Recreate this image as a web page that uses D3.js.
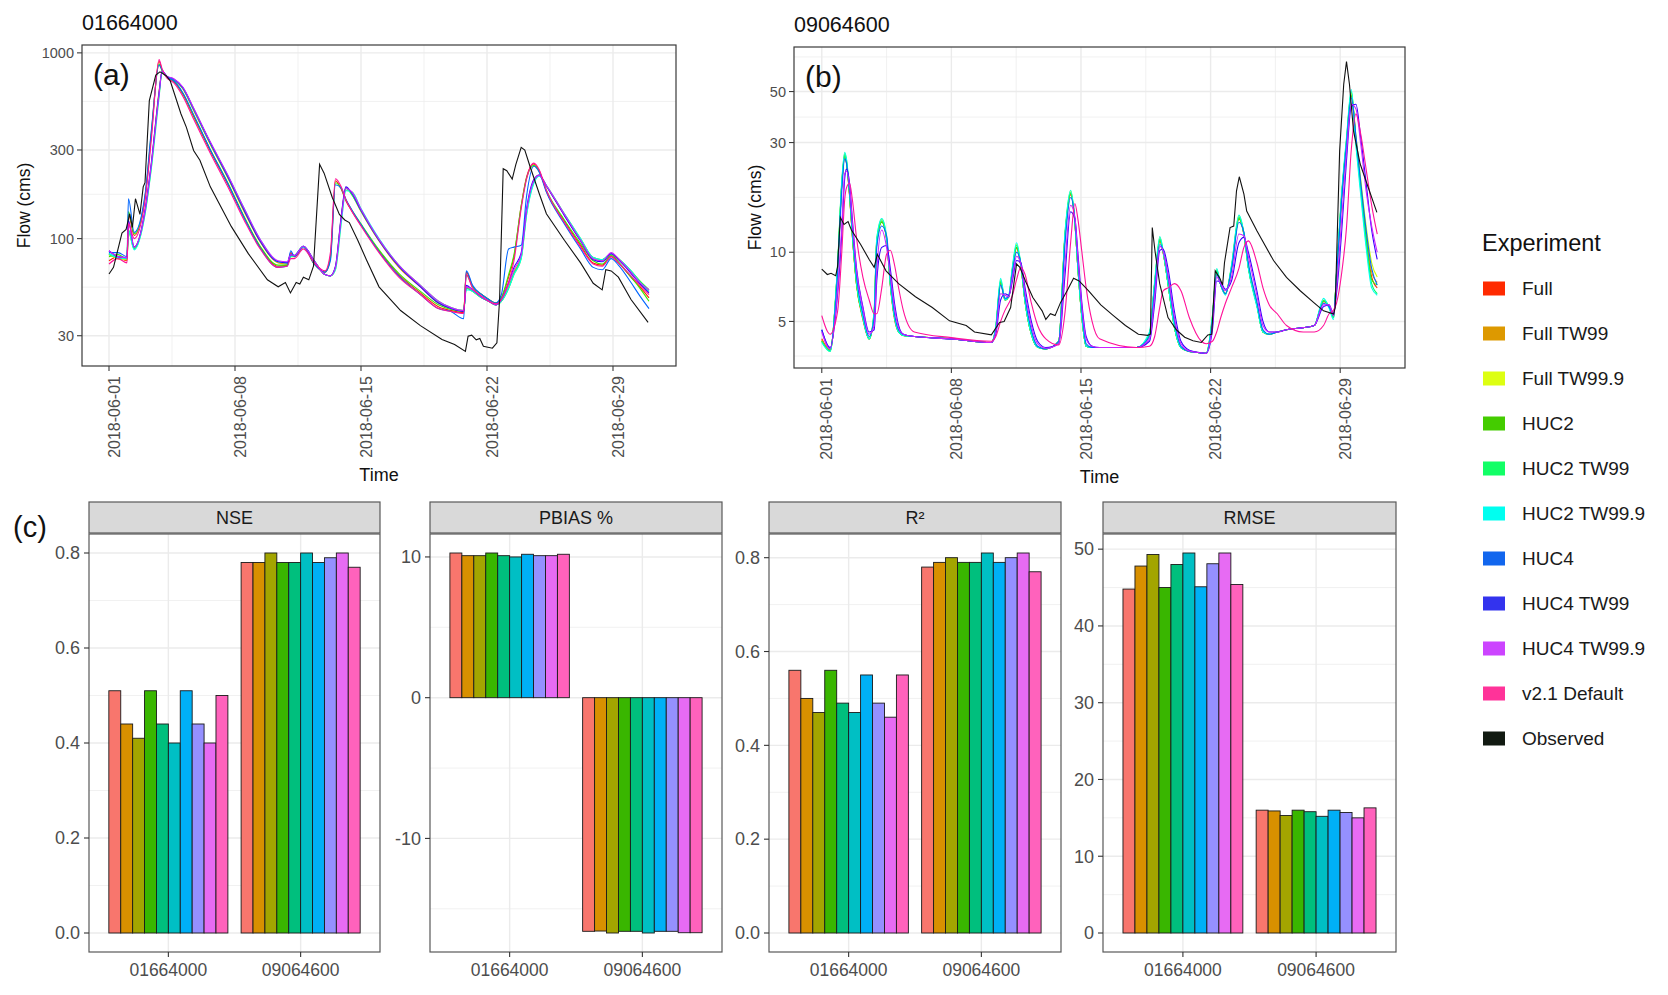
<!DOCTYPE html>
<html>
<head>
<meta charset="utf-8">
<script src="https://cdn.jsdelivr.net/npm/d3@7.9.0/dist/d3.min.js"></script>
<style>
  body { margin: 0; background: #fff; }
  svg { font-family: "Liberation Sans", Arial, Helvetica, sans-serif; }
</style>
</head>
<body>
<svg id="chart" width="1668" height="995"></svg>
<script>
// ---- categories / labels ----
const experiments = ['Full', 'Full TW99', 'Full TW99.9', 'HUC2', 'HUC2 TW99', 'HUC2 TW99.9',
  'HUC4', 'HUC4 TW99', 'HUC4 TW99.9', 'v2.1 Default'];
const legendLabels = [...experiments, 'Observed'];
const lineColors = ['#ff2200', '#ee9900', '#ccff00', '#33ee00', '#00ff66', '#00ffee',
  '#0066ff', '#3300ff', '#cc22ff', '#ff1199', '#111111'];
const keyColors = ['#ff2a00', '#dd9900', '#ddff11', '#44cc00', '#11ff66', '#00fff0',
  '#1166ee', '#3333ee', '#cc44ff', '#ff3399', '#111a11'];
const barColors = ['#F8766D', '#D89000', '#A3A500', '#39B600', '#00BF7D', '#00BFC4',
  '#00B0F6', '#9590FF', '#E76BF3', '#FF62BC'];
const sites = ['01664000', '09064600'];
const dateTickDays = [0, 7, 14, 21, 28];
const dateTickLabels = ['2018-06-01', '2018-06-08', '2018-06-15', '2018-06-22', '2018-06-29'];

// ---- site 01664000 hydrographs (days since 2018-06-01, flow cms) ----
const daysA = [0, 0.5, 1.0, 1.08, 1.4, 2.0, 2.35, 2.78, 2.95, 3.2,
  3.6, 4.1, 4.7, 5.6, 6.6, 7.5, 8.4, 9.4, 9.9, 10.1,
  10.3, 10.8, 11.4, 12.0, 12.3, 12.58, 12.9, 13.16, 13.5, 14.0,
  15.0, 16.1, 17.3, 18.3, 19.0, 19.7, 19.85, 20.2, 20.7, 21.1,
  21.5, 21.8, 22.2, 22.5, 22.9, 23.2, 23.6, 23.9, 24.3, 25.3,
  26.2, 26.9, 27.4, 27.9, 28.3, 29.0, 29.5, 30.0];
const flowA_full = [76, 80, 76, 135, 104, 165, 360, 900, 810, 740,
  700, 600, 455, 300, 196, 130, 90, 71, 72, 84,
  80, 90, 73, 66, 80, 205, 185, 160, 140, 118,
  86, 64, 51, 43, 41, 40, 66, 55, 50, 47,
  45, 48, 62, 80, 150, 215, 252, 232, 180, 124,
  92, 74, 72, 80, 74, 62, 55, 48];
const flowA_fullTW99 = [82, 78, 77, 110, 90, 140, 250, 620, 790, 745,
  715, 640, 490, 325, 212, 140, 96, 74, 73, 80,
  80, 90, 75, 64, 63, 70, 130, 188, 172, 140,
  97, 70, 55, 45, 42, 41, 55, 52, 48, 46,
  44, 46, 55, 66, 80, 140, 205, 220, 192, 134,
  98, 78, 76, 82, 77, 66, 58, 52];
const flowA_fullTW999 = [82, 78, 77, 108, 88, 136, 240, 580, 800, 748,
  720, 648, 500, 332, 218, 145, 98, 75, 74, 80,
  81, 90, 76, 64, 63, 68, 122, 182, 178, 144,
  99, 72, 56, 46, 42.5, 41, 54, 52, 48, 46,
  44, 46, 54, 64, 78, 135, 200, 218, 193, 136,
  100, 79, 77, 83, 78, 67, 59, 53];
const flowA_huc2 = [80, 82, 78, 140, 106, 168, 370, 870, 800, 742,
  705, 605, 460, 305, 200, 132, 91, 72, 72, 82,
  80, 90, 73, 66, 78, 200, 186, 162, 142, 120,
  87, 65, 52, 44, 41.5, 40.5, 64, 55, 50, 47,
  45, 48, 64, 82, 150, 212, 248, 230, 182, 126,
  94, 76, 73, 81, 75, 62, 54, 46];
const flowA_huc2TW99 = [83, 79, 78, 112, 88, 138, 245, 600, 785, 745,
  718, 645, 495, 328, 214, 142, 97, 75, 74, 80,
  81, 91, 76, 64, 63, 70, 128, 186, 172, 141,
  98, 71, 55.5, 45.5, 42, 41, 54, 52, 48, 46,
  44, 46, 54, 65, 79, 138, 203, 219, 192, 135,
  99, 79, 77, 83, 78, 67, 59, 53];
const flowA_huc2TW999 = [83, 79, 78, 110, 87, 135, 238, 575, 798, 748,
  720, 648, 500, 333, 219, 146, 99, 75, 74, 80,
  81, 90, 76, 64, 63, 68, 120, 181, 178, 145,
  100, 72, 56, 46, 42.5, 41, 53, 52, 48, 46,
  44, 46, 54, 64, 78, 134, 198, 217, 193, 136,
  100, 79, 77, 83, 78, 67, 58, 52];
const flowA_huc4 = [84, 84, 80, 164, 108, 172, 380, 860, 810, 745,
  708, 610, 465, 305, 198, 130, 89, 70, 71, 86,
  80, 91, 73, 66, 76, 195, 187, 163, 142, 119,
  85, 63, 50, 42, 40.5, 37, 67, 56, 50, 47,
  45, 50, 88, 90, 92, 170, 245, 228, 178, 120,
  88, 70, 68, 78, 72, 58, 49, 42];
const flowA_huc4TW99 = [86, 80, 79, 125, 90, 142, 255, 610, 795, 750,
  722, 650, 500, 332, 216, 143, 97, 75, 74, 82,
  81, 91, 76, 64, 63, 71, 132, 190, 175, 142,
  98, 71, 55, 45, 42, 40.5, 56, 53, 48.5, 46,
  44, 47, 58, 70, 84, 145, 208, 220, 192, 133,
  97, 77, 75, 83, 77, 65, 57, 51];
const flowA_huc4TW999 = [86, 80, 79, 122, 90, 140, 250, 600, 800, 752,
  725, 655, 505, 336, 220, 146, 99, 76, 75, 82,
  81, 91, 76, 64, 63, 70, 128, 186, 178, 144,
  99, 72, 56, 46, 42.5, 41, 55, 53, 48.5, 46,
  44, 47, 57, 68, 82, 142, 205, 219, 193, 135,
  98, 78, 76, 84, 78, 66, 58, 53];
const flowA_v21 = [73, 78, 74, 120, 100, 160, 340, 920, 820, 735,
  690, 585, 440, 292, 190, 126, 88, 70, 71, 78,
  78, 88, 74, 67, 84, 210, 190, 162, 140, 117,
  84, 62, 50, 42, 40.5, 39.5, 64, 54, 49, 46,
  44.5, 47, 58, 76, 145, 210, 255, 235, 182, 122,
  90, 73, 71, 80, 74, 63, 56, 50];
const obsDaysA = [0, 0.25, 0.72, 0.95, 1.15, 1.3, 1.47, 1.72, 1.9, 2.0,
  2.24, 2.6, 2.83, 3.18, 3.4, 4.0, 4.3, 4.7, 5.05, 5.63,
  6.8, 7.74, 8.8, 9.4, 9.8, 10.08, 10.4, 10.6, 10.8, 11.1,
  11.36, 11.7, 11.95, 12.4, 12.8, 13.1, 13.35, 13.82, 14.3, 15.0,
  16.2, 17.3, 18.5, 19.2, 19.8, 19.95, 20.15, 20.4, 20.6, 20.8,
  21.3, 21.55, 21.7, 21.9, 22.1, 22.4, 22.6, 22.9, 23.1, 23.4,
  23.9, 24.3, 25.3, 26.2, 26.9, 27.4, 27.6, 27.9, 28.3, 29.0, 29.95];
const obsFlowA = [64.5, 70, 107, 112, 136, 115, 164, 135, 190, 200,
  553, 760, 790, 753, 707, 469, 397, 298, 264, 190,
  116, 83, 60, 55, 58, 51, 58, 57, 62, 60,
  71, 251, 225, 167, 135, 126, 122, 98, 77, 55,
  41, 34, 28.6, 26.9, 24.7, 29.8, 30.2, 28.5, 29, 26.3,
  25.7, 27.5, 47, 238, 232, 209, 250, 310, 300, 243,
  175, 136, 98, 74, 57.5, 53, 68, 67, 62, 47, 35.4];

// ---- site 09064600 hydrographs ----
const daysB = [0, 0.45, 0.85, 1.08, 1.24, 1.33, 1.5, 1.65, 1.88, 2.22,
  2.56, 2.83, 2.97, 3.24, 3.5, 3.7, 3.93, 4.15, 4.4, 5.0,
  7.0, 9.16, 9.4, 9.66, 9.9, 10.1, 10.3, 10.52, 10.75, 10.98,
  11.32, 11.66, 12.1, 12.8, 13.14, 13.44, 13.67, 13.83, 14.05, 14.28,
  14.6, 15.0, 17.0, 17.7, 17.98, 18.26, 18.44, 18.7, 19.05, 19.4,
  19.85, 20.5, 20.76, 21.1, 21.33, 21.55, 21.8, 22.13, 22.53, 22.8,
  23.04, 23.5, 23.83, 24.17, 24.6, 25.1, 26.0, 26.6, 27.1, 27.4,
  27.64, 27.8, 28.07, 28.34, 28.6, 28.85, 29.1, 29.4, 29.7, 30.0];
const flowB_full = [4.2, 3.75, 8.4, 19.5, 26.0, 24.5, 17.6, 11.8, 7.2, 5.1,
  4.2, 5.4, 11.0, 13.5, 11.4, 7.2, 5.1, 4.5, 4.35, 4.3,
  4.2, 4.05, 4.7, 7.3, 6.2, 6.4, 8.4, 10.4, 8.7, 6.1,
  4.4, 3.86, 3.8, 4.1, 11.8, 17.8, 13.4, 8.6, 5.2, 3.9,
  3.85, 3.85, 3.85, 4.4, 7.2, 11.2, 9.9, 7.3, 4.7, 3.85,
  3.7, 3.65, 3.63, 5.1, 8.2, 7.2, 6.6, 8.5, 14.0, 11.9,
  8.6, 5.9, 4.5, 4.4, 4.5, 4.6, 4.7, 4.8, 6.1, 5.8,
  5.2, 7.9, 17.0, 30.0, 48, 31, 19.5, 11.5, 7.8, 7.0];
const flowB_fullTW99 = [4.15, 3.74, 8.5, 19.6, 26.4, 24.8, 17.8, 11.9, 7.2, 5.2,
  4.2, 5.4, 11.1, 13.6, 11.5, 7.3, 5.2, 4.5, 4.35, 4.3,
  4.2, 4.05, 4.7, 7.4, 6.2, 6.4, 8.5, 10.5, 8.8, 6.1,
  4.4, 3.86, 3.8, 4.1, 11.9, 18.0, 13.5, 8.6, 5.2, 3.9,
  3.85, 3.85, 3.85, 4.4, 7.3, 11.3, 10, 7.3, 4.7, 3.85,
  3.7, 3.65, 3.63, 5.2, 8.3, 7.2, 6.6, 8.6, 14.1, 12,
  8.6, 5.9, 4.5, 4.4, 4.5, 4.6, 4.7, 4.8, 6.15, 5.8,
  5.2, 8.0, 17.2, 30.3, 49, 31, 20, 12, 8.2, 7.4];
const flowB_fullTW999 = [4.1, 3.7, 8.7, 20.2, 27.0, 25.4, 18.2, 12.1, 7.3, 5.2,
  4.2, 5.6, 11.4, 13.9, 11.6, 7.3, 5.2, 4.5, 4.35, 4.3,
  4.2, 4.05, 4.7, 7.6, 6.2, 6.4, 8.6, 10.8, 8.9, 6.1,
  4.4, 3.86, 3.8, 4.1, 12.2, 18.5, 13.6, 8.6, 5.2, 3.9,
  3.85, 3.85, 3.85, 4.4, 7.4, 11.6, 10.1, 7.3, 4.7, 3.85,
  3.7, 3.65, 3.63, 5.3, 8.4, 7.2, 6.6, 8.7, 14.4, 12.1,
  8.6, 5.9, 4.5, 4.4, 4.5, 4.6, 4.7, 4.8, 6.2, 5.8,
  5.2, 8.1, 17.5, 30.8, 49.5, 32, 21, 13, 9, 7.8];
const flowB_huc2 = [4.1, 3.72, 8.5, 19.7, 26.3, 24.8, 17.8, 11.9, 7.2, 5.2,
  4.2, 5.4, 11.1, 13.5, 11.4, 7.3, 5.2, 4.5, 4.35, 4.3,
  4.2, 4.05, 4.7, 7.4, 6.2, 6.4, 8.4, 10.5, 8.8, 6.1,
  4.4, 3.86, 3.8, 4.1, 11.9, 18.0, 13.5, 8.6, 5.2, 3.9,
  3.85, 3.85, 3.85, 4.4, 7.3, 11.3, 10, 7.3, 4.7, 3.85,
  3.7, 3.65, 3.63, 5.2, 8.3, 7.2, 6.6, 8.6, 14.0, 12,
  8.6, 5.9, 4.5, 4.4, 4.5, 4.6, 4.7, 4.8, 6.15, 5.8,
  5.2, 8.0, 17.1, 30.2, 48, 30.5, 19.5, 11.5, 7.6, 7.2];
const flowB_huc2TW99 = [4.1, 3.72, 8.6, 19.8, 26.7, 25, 18, 12, 7.3, 5.2,
  4.2, 5.5, 11.2, 13.7, 11.5, 7.3, 5.2, 4.5, 4.35, 4.3,
  4.2, 4.05, 4.7, 7.5, 6.2, 6.4, 8.5, 10.7, 8.8, 6.1,
  4.4, 3.86, 3.8, 4.1, 12, 18.2, 13.5, 8.6, 5.2, 3.9,
  3.85, 3.85, 3.85, 4.4, 7.3, 11.4, 10, 7.3, 4.7, 3.85,
  3.7, 3.65, 3.63, 5.2, 8.3, 7.2, 6.6, 8.6, 14.2, 12,
  8.6, 5.9, 4.5, 4.4, 4.5, 4.6, 4.7, 4.8, 6.15, 5.8,
  5.2, 8.0, 17.3, 30.5, 50, 30, 19, 11, 7.3, 6.6];
const flowB_huc2TW999 = [4.05, 3.7, 8.8, 20.4, 27.2, 25.6, 18.3, 12.2, 7.4, 5.2,
  4.2, 5.6, 11.5, 14.0, 11.7, 7.3, 5.2, 4.5, 4.35, 4.3,
  4.2, 4.05, 4.8, 7.7, 6.2, 6.5, 8.7, 11.0, 8.9, 6.1,
  4.4, 3.86, 3.8, 4.1, 12.3, 18.6, 13.6, 8.6, 5.2, 3.9,
  3.85, 3.85, 3.85, 4.5, 7.5, 11.7, 10.1, 7.3, 4.7, 3.85,
  3.7, 3.65, 3.63, 5.3, 8.5, 7.2, 6.5, 8.8, 14.5, 12.1,
  8.5, 5.8, 4.5, 4.4, 4.5, 4.6, 4.7, 4.8, 6.3, 5.7,
  5.1, 8.2, 17.8, 31.5, 51, 29, 18, 10.5, 7.0, 6.5];
const flowB_huc4 = [4.6, 3.8, 8.0, 18.5, 25.5, 24.5, 18.5, 12.8, 7.8, 5.4,
  4.3, 5.2, 10.5, 13.0, 11.8, 7.8, 5.4, 4.6, 4.4, 4.3,
  4.2, 4.05, 4.6, 7.2, 6.3, 6.4, 8.2, 10.0, 9.0, 6.4,
  4.6, 3.9, 3.8, 4.1, 11.0, 17.3, 14.0, 9.2, 5.6, 4.0,
  3.85, 3.85, 3.85, 4.3, 6.9, 10.8, 10.2, 7.8, 5.0, 3.9,
  3.7, 3.65, 3.63, 5.0, 8.0, 7.2, 6.6, 8.4, 13.5, 12.2,
  9.0, 6.1, 4.6, 4.4, 4.5, 4.6, 4.7, 4.8, 6.0, 5.8,
  5.3, 7.8, 16.5, 29.5, 47, 32, 20.5, 12.5, 8.5, 7.2];
const flowB_huc4TW99 = [4.6, 3.85, 6.5, 12, 21, 23, 20, 14, 8.5, 5.8,
  4.5, 4.6, 7.5, 10.5, 10.7, 8.5, 6.0, 4.8, 4.4, 4.3,
  4.2, 4.05, 4.4, 6.2, 6.6, 6.5, 7.5, 9.2, 9.0, 7.0,
  5.0, 4.1, 3.85, 4.0, 8.0, 15.0, 14.0, 10.0, 6.0, 4.3,
  3.9, 3.85, 3.85, 4.1, 6.0, 10.2, 10.3, 8.5, 5.5, 4.1,
  3.75, 3.65, 3.63, 4.6, 7.5, 7.4, 6.9, 7.5, 11.0, 11.6,
  10.0, 6.8, 5.0, 4.5, 4.5, 4.6, 4.7, 4.8, 5.8, 5.9,
  5.4, 6.6, 12.0, 25.0, 43, 44, 32, 20, 12.5, 9.3];
const flowB_huc4TW999 = [4.5, 3.8, 6.8, 13, 22, 22.5, 19.5, 13.5, 8.3, 5.7,
  4.4, 4.8, 8.2, 12.5, 10.5, 8.0, 5.7, 4.7, 4.4, 4.3,
  4.2, 4.05, 4.5, 6.6, 6.5, 6.4, 7.8, 9.6, 8.9, 6.7,
  4.8, 4.0, 3.82, 4.0, 9.0, 16.0, 14.2, 9.6, 5.8, 4.2,
  3.9, 3.85, 3.85, 4.2, 6.4, 10.6, 10.1, 8.0, 5.2, 4.0,
  3.72, 3.65, 3.63, 4.8, 7.8, 7.3, 6.8, 7.8, 12.0, 11.8,
  9.6, 6.5, 4.8, 4.5, 4.5, 4.6, 4.7, 4.8, 5.9, 5.9,
  5.3, 7.0, 13.5, 27, 44, 42, 30, 18.5, 13, 10];
const flowB_v21 = [5.3, 4.4, 5.5, 10, 17, 19, 20, 17, 11.5, 7.8,
  6.2, 5.4, 5.4, 7.0, 9.8, 10.2, 8.8, 7.0, 5.6, 4.5,
  4.25, 4.1, 4.3, 5.0, 5.6, 6.0, 6.5, 7.6, 8.6, 8.0,
  6.0, 4.8, 4.2, 3.95, 5.5, 11, 16.3, 14, 10, 7.0,
  5.0, 4.2, 3.85, 3.9, 4.3, 5.8, 6.8, 7.0, 7.3, 6.8,
  5.2, 4.1, 4.0, 4.1, 4.5, 5.2, 6.0, 7.0, 8.5, 10.5,
  11.2, 9.0, 7.0, 5.9, 5.4, 4.8, 4.5, 4.5, 4.8, 5.4,
  5.6, 6.0, 8.0, 12.8, 28, 40, 33, 23, 16, 12];
const obsDaysB = [0, 0.3, 0.5, 0.75, 0.85, 1.0, 1.2, 1.42, 1.6, 2.1,
  2.56, 2.83, 3.0, 3.47, 4.15, 5.06, 5.97, 6.9, 7.8, 8.25,
  9.16, 9.6, 9.85, 10.2, 10.52, 10.7, 11.0, 11.4, 11.9, 12.1,
  12.35, 12.6, 12.9, 13.25, 13.6, 13.9, 14.4, 15.07, 15.75, 16.4,
  17.1, 17.6, 17.75, 17.85, 18.0, 18.25, 18.7, 19.15, 19.6, 20.05,
  20.5, 20.85, 21.06, 21.25, 21.5, 21.65, 21.75, 22.05, 22.25, 22.4,
  22.55, 22.8, 22.95, 23.5, 24.4, 25.1, 25.84, 26.56, 27.1, 27.65,
  27.73, 27.97, 28.19, 28.34, 28.5, 28.72, 29.08, 29.45, 29.98];
const obsFlowB = [8.45, 8.0, 8.1, 7.9, 8.6, 14.2, 13.2, 13.6, 12.5, 10.8,
  9.3, 8.6, 9.8, 8.3, 7.3, 6.4, 5.75, 5.03, 4.8, 4.5,
  4.37, 4.95, 5.0, 5.75, 8.9, 8.6, 7.5, 6.35, 5.56, 5.1,
  5.4, 5.3, 6.05, 6.8, 7.7, 7.5, 6.8, 5.9, 5.3, 4.8,
  4.4, 4.35, 4.4, 12.8, 10.1, 7.3, 5.2, 4.6, 4.27, 4.12,
  4.05, 4.37, 4.4, 8.3, 7.7, 7.2, 9.0, 12.8, 13.0, 18.5,
  21.3, 17.9, 15.1, 12.4, 9.2, 7.77, 6.8, 6.05, 5.56, 5.38,
  5.75, 27.6, 53.8, 67.5, 53.8, 33.7, 24.2, 19.8, 14.9];

// ---- goodness-of-fit metrics per site (order = experiments) ----
const nse_01664000 = [0.51, 0.44, 0.41, 0.51, 0.44, 0.40, 0.51, 0.44, 0.40, 0.50];
const nse_09064600 = [0.78, 0.78, 0.80, 0.78, 0.78, 0.80, 0.78, 0.79, 0.80, 0.77];
const pbias_01664000 = [10.28, 10.09, 10.09, 10.28, 10.09, 10.0, 10.19, 10.09, 10.09, 10.19];
const pbias_09064600 = [-16.6, -16.58, -16.72, -16.6, -16.6, -16.72, -16.6, -16.6, -16.7, -16.7];
const r2_01664000 = [0.56, 0.50, 0.47, 0.56, 0.49, 0.47, 0.55, 0.49, 0.46, 0.55];
const r2_09064600 = [0.78, 0.79, 0.80, 0.79, 0.79, 0.81, 0.79, 0.80, 0.81, 0.77];
const rmse_01664000 = [44.8, 47.8, 49.3, 45.0, 48.0, 49.5, 45.1, 48.1, 49.5, 45.4];
const rmse_09064600 = [16.0, 15.9, 15.3, 16.0, 15.8, 15.2, 16.0, 15.7, 15.0, 16.3];

const flowSeriesA = [flowA_full, flowA_fullTW99, flowA_fullTW999, flowA_huc2, flowA_huc2TW99,
  flowA_huc2TW999, flowA_huc4, flowA_huc4TW99, flowA_huc4TW999, flowA_v21];
const flowSeriesB = [flowB_full, flowB_fullTW99, flowB_fullTW999, flowB_huc2, flowB_huc2TW99,
  flowB_huc2TW999, flowB_huc4, flowB_huc4TW99, flowB_huc4TW999, flowB_v21];

const svg = d3.select('#chart');
const gridColor = '#ebebeb';
const borderColor = '#3a3a3a';
const tickText = '#4d4d4d';

function flowPanel(p) {
  const g = svg.append('g');
  const allVals = p.series.flat().concat(p.obsFlow);
  const [lo, hi] = d3.extent(allVals).map(Math.log10);
  const padY = (hi - lo) * 0.05;
  const y = d3.scaleLog()
    .domain([10 ** (lo - padY), 10 ** (hi + padY)])
    .range([p.bottom, p.top]);
  const [d0, d1] = d3.extent(p.days);
  const padX = (d1 - d0) * 0.05;
  const x = d3.scaleLinear().domain([d0 - padX, d1 + padX]).range([p.left, p.right]);

  // minor breaks half way (in log space) between the major ones
  const lt = p.yTicks.map(Math.log10);
  const bd = lt[1] - lt[0];
  const ext = [lt[0] - bd, ...lt, lt[lt.length - 1] + bd];
  const [dLo, dHi] = y.domain();
  const minorY = d3.pairs(ext, (a, b) => 10 ** ((a + b) / 2)).filter((v) => v > dLo && v < dHi);
  const minorX = d3.pairs(dateTickDays, (a, b) => (a + b) / 2);

  const grid = g.append('g');
  grid.selectAll('.mx').data(minorX).join('line')
    .attr('x1', (d) => x(d)).attr('x2', (d) => x(d))
    .attr('y1', p.top).attr('y2', p.bottom)
    .attr('stroke', gridColor).attr('stroke-width', 0.7);
  grid.selectAll('.my').data(minorY).join('line')
    .attr('x1', p.left).attr('x2', p.right)
    .attr('y1', (d) => y(d)).attr('y2', (d) => y(d))
    .attr('stroke', gridColor).attr('stroke-width', 0.7);
  grid.selectAll('.Mx').data(dateTickDays).join('line')
    .attr('x1', (d) => x(d)).attr('x2', (d) => x(d))
    .attr('y1', p.top).attr('y2', p.bottom)
    .attr('stroke', gridColor).attr('stroke-width', 1.4);
  grid.selectAll('.My').data(p.yTicks).join('line')
    .attr('x1', p.left).attr('x2', p.right)
    .attr('y1', (d) => y(d)).attr('y2', (d) => y(d))
    .attr('stroke', gridColor).attr('stroke-width', 1.4);

  const clipId = 'clip-' + p.tag;
  svg.append('clipPath').attr('id', clipId).append('rect')
    .attr('x', p.left).attr('y', p.top)
    .attr('width', p.right - p.left).attr('height', p.bottom - p.top);

  const smooth = d3.line().x((d) => x(d[0])).y((d) => y(d[1])).curve(d3.curveMonotoneX);
  const plain = d3.line().x((d) => x(d[0])).y((d) => y(d[1]));
  const lines = g.append('g').attr('clip-path', `url(#${clipId})`);
  p.series.forEach((vals, i) => {
    lines.append('path')
      .attr('d', smooth(d3.zip(p.days, vals)))
      .attr('fill', 'none')
      .attr('stroke', lineColors[i])
      .attr('stroke-width', 1.1);
  });
  lines.append('path')
    .attr('d', plain(d3.zip(p.obsDays, p.obsFlow)))
    .attr('fill', 'none')
    .attr('stroke', lineColors[10])
    .attr('stroke-width', 1.1);

  g.append('rect')
    .attr('x', p.left).attr('y', p.top)
    .attr('width', p.right - p.left).attr('height', p.bottom - p.top)
    .attr('fill', 'none').attr('stroke', borderColor).attr('stroke-width', 1.2);

  // y axis
  const yAx = g.append('g');
  yAx.selectAll('line').data(p.yTicks).join('line')
    .attr('x1', p.left - 5).attr('x2', p.left)
    .attr('y1', (d) => y(d)).attr('y2', (d) => y(d))
    .attr('stroke', borderColor).attr('stroke-width', 1.1);
  yAx.selectAll('text').data(p.yTicks).join('text')
    .attr('x', p.left - 8).attr('y', (d) => y(d)).attr('dy', '0.35em')
    .attr('text-anchor', 'end').attr('font-size', 14.5).attr('fill', tickText)
    .text((d) => d);

  // x axis (rotated dates)
  const xAx = g.append('g');
  xAx.selectAll('line').data(dateTickDays).join('line')
    .attr('x1', (d) => x(d)).attr('x2', (d) => x(d))
    .attr('y1', p.bottom).attr('y2', p.bottom + 5)
    .attr('stroke', borderColor).attr('stroke-width', 1.1);
  xAx.selectAll('text').data(dateTickDays).join('text')
    .attr('transform', (d) => `translate(${x(d) + 5},${p.bottom + 10}) rotate(-90)`)
    .attr('dy', '0.35em')
    .attr('text-anchor', 'end').attr('font-size', 16).attr('fill', tickText)
    .text((d, i) => dateTickLabels[i]);

  g.append('text')
    .attr('x', (p.left + p.right) / 2).attr('y', p.bottom + 115)
    .attr('text-anchor', 'middle').attr('font-size', 18).attr('fill', '#111')
    .text('Time');
  g.append('text')
    .attr('transform', `translate(${p.yTitleX},${(p.top + p.bottom) / 2}) rotate(-90)`)
    .attr('dy', '0.35em')
    .attr('text-anchor', 'middle').attr('font-size', 17.5).attr('fill', '#111')
    .text('Flow (cms)');
  g.append('text')
    .attr('x', p.left).attr('y', p.titleY)
    .attr('font-size', 21.5).attr('fill', '#111')
    .text(p.title);
  g.append('text')
    .attr('x', p.left + 11).attr('y', p.top + 40)
    .attr('font-size', 30).attr('fill', '#111')
    .text(p.tag);
}

flowPanel({
  tag: '(a)', title: sites[0], left: 82, right: 676, top: 45, bottom: 366,
  titleY: 30, yTitleX: 24, yTicks: [30, 100, 300, 1000],
  days: daysA, series: flowSeriesA, obsDays: obsDaysA, obsFlow: obsFlowA,
});
flowPanel({
  tag: '(b)', title: sites[1], left: 794, right: 1405, top: 47, bottom: 368,
  titleY: 32, yTitleX: 755, yTicks: [5, 10, 30, 50],
  days: daysB, series: flowSeriesB, obsDays: obsDaysB, obsFlow: obsFlowB,
});

// ---- metric bar panels ----
const barTop = 534, barBottom = 952;
function barPanel(p) {
  const g = svg.append('g');
  const vals = p.values.flat();
  const lo = Math.min(0, d3.min(vals));
  const hi = Math.max(0, d3.max(vals));
  const pad = (hi - lo) * 0.05;
  const y = d3.scaleLinear().domain([lo - pad, hi + pad]).range([barBottom, barTop]);
  const x = d3.scaleBand().domain(sites).range([p.left, p.right])
    .paddingInner(0.1).paddingOuter(0.15);
  const xe = d3.scaleBand().domain(experiments).range([0, x.bandwidth()]);

  const step = p.yTicks[1] - p.yTicks[0];
  const ext = [p.yTicks[0] - step, ...p.yTicks, p.yTicks[p.yTicks.length - 1] + step];
  const [dLo, dHi] = y.domain();
  const minorY = d3.pairs(ext, (a, b) => (a + b) / 2).filter((v) => v > dLo && v < dHi);

  const grid = g.append('g');
  grid.selectAll('.my').data(minorY).join('line')
    .attr('x1', p.left).attr('x2', p.right)
    .attr('y1', (d) => y(d)).attr('y2', (d) => y(d))
    .attr('stroke', gridColor).attr('stroke-width', 0.7);
  grid.selectAll('.My').data(p.yTicks).join('line')
    .attr('x1', p.left).attr('x2', p.right)
    .attr('y1', (d) => y(d)).attr('y2', (d) => y(d))
    .attr('stroke', gridColor).attr('stroke-width', 1.4);
  grid.selectAll('.Mx').data(sites).join('line')
    .attr('x1', (d) => x(d) + x.bandwidth() / 2).attr('x2', (d) => x(d) + x.bandwidth() / 2)
    .attr('y1', barTop).attr('y2', barBottom)
    .attr('stroke', gridColor).attr('stroke-width', 1.4);

  sites.forEach((site, si) => {
    g.append('g').selectAll('rect').data(p.values[si]).join('rect')
      .attr('x', (d, i) => x(site) + xe(experiments[i]))
      .attr('width', xe.bandwidth())
      .attr('y', (d) => y(Math.max(0, d)))
      .attr('height', (d) => Math.abs(y(d) - y(0)))
      .attr('fill', (d, i) => barColors[i])
      .attr('stroke', '#1a1a1a').attr('stroke-width', 0.9);
  });

  g.append('rect')
    .attr('x', p.left).attr('y', barTop)
    .attr('width', p.right - p.left).attr('height', barBottom - barTop)
    .attr('fill', 'none').attr('stroke', '#595959').attr('stroke-width', 1.2);
  g.append('rect')
    .attr('x', p.left).attr('y', 502)
    .attr('width', p.right - p.left).attr('height', 31)
    .attr('fill', '#d9d9d9').attr('stroke', '#595959').attr('stroke-width', 1.2);
  g.append('text')
    .attr('x', (p.left + p.right) / 2).attr('y', 517.5).attr('dy', '0.35em')
    .attr('text-anchor', 'middle').attr('font-size', 18).attr('fill', '#1a1a1a')
    .text(p.metric);

  const yAx = g.append('g');
  yAx.selectAll('line').data(p.yTicks).join('line')
    .attr('x1', p.left - 5).attr('x2', p.left)
    .attr('y1', (d) => y(d)).attr('y2', (d) => y(d))
    .attr('stroke', '#333').attr('stroke-width', 1.1);
  yAx.selectAll('text').data(p.yTicks).join('text')
    .attr('x', p.left - 9).attr('y', (d) => y(d)).attr('dy', '0.35em')
    .attr('text-anchor', 'end').attr('font-size', 18).attr('fill', tickText)
    .text((d) => p.fmt(d));

  const xAx = g.append('g');
  xAx.selectAll('line').data(sites).join('line')
    .attr('x1', (d) => x(d) + x.bandwidth() / 2).attr('x2', (d) => x(d) + x.bandwidth() / 2)
    .attr('y1', barBottom).attr('y2', barBottom + 5)
    .attr('stroke', '#333').attr('stroke-width', 1.1);
  xAx.selectAll('text').data(sites).join('text')
    .attr('x', (d) => x(d) + x.bandwidth() / 2).attr('y', barBottom + 24)
    .attr('text-anchor', 'middle').attr('font-size', 17.5).attr('fill', tickText)
    .text((d) => d);
}

const fmt1 = d3.format('.1f');
const fmt0 = (d) => String(d);
barPanel({ metric: 'NSE', left: 89, right: 380, values: [nse_01664000, nse_09064600],
  yTicks: [0, 0.2, 0.4, 0.6, 0.8], fmt: fmt1 });
barPanel({ metric: 'PBIAS %', left: 430, right: 722, values: [pbias_01664000, pbias_09064600],
  yTicks: [-10, 0, 10], fmt: fmt0 });
barPanel({ metric: 'R²', left: 769, right: 1061, values: [r2_01664000, r2_09064600],
  yTicks: [0, 0.2, 0.4, 0.6, 0.8], fmt: fmt1 });
barPanel({ metric: 'RMSE', left: 1103, right: 1396, values: [rmse_01664000, rmse_09064600],
  yTicks: [0, 10, 20, 30, 40, 50], fmt: fmt0 });

svg.append('text')
  .attr('x', 13).attr('y', 537)
  .attr('font-size', 29).attr('fill', '#111')
  .text('(c)');

// ---- legend ----
const legend = svg.append('g');
legend.append('text')
  .attr('x', 1482).attr('y', 251)
  .attr('font-size', 23.5).attr('fill', '#111')
  .text('Experiment');
const rows = legend.selectAll('g.row').data(legendLabels).join('g')
  .attr('class', 'row')
  .attr('transform', (d, i) => `translate(0,${288.5 + 45 * i})`);
rows.append('rect')
  .attr('x', 1483).attr('y', -7).attr('width', 22).attr('height', 14)
  .attr('fill', (d, i) => keyColors[i]);
rows.append('text')
  .attr('x', 1522).attr('y', 0).attr('dy', '0.35em')
  .attr('font-size', 19).attr('fill', '#1a1a1a')
  .text((d) => d);
</script>
</body>
</html>
